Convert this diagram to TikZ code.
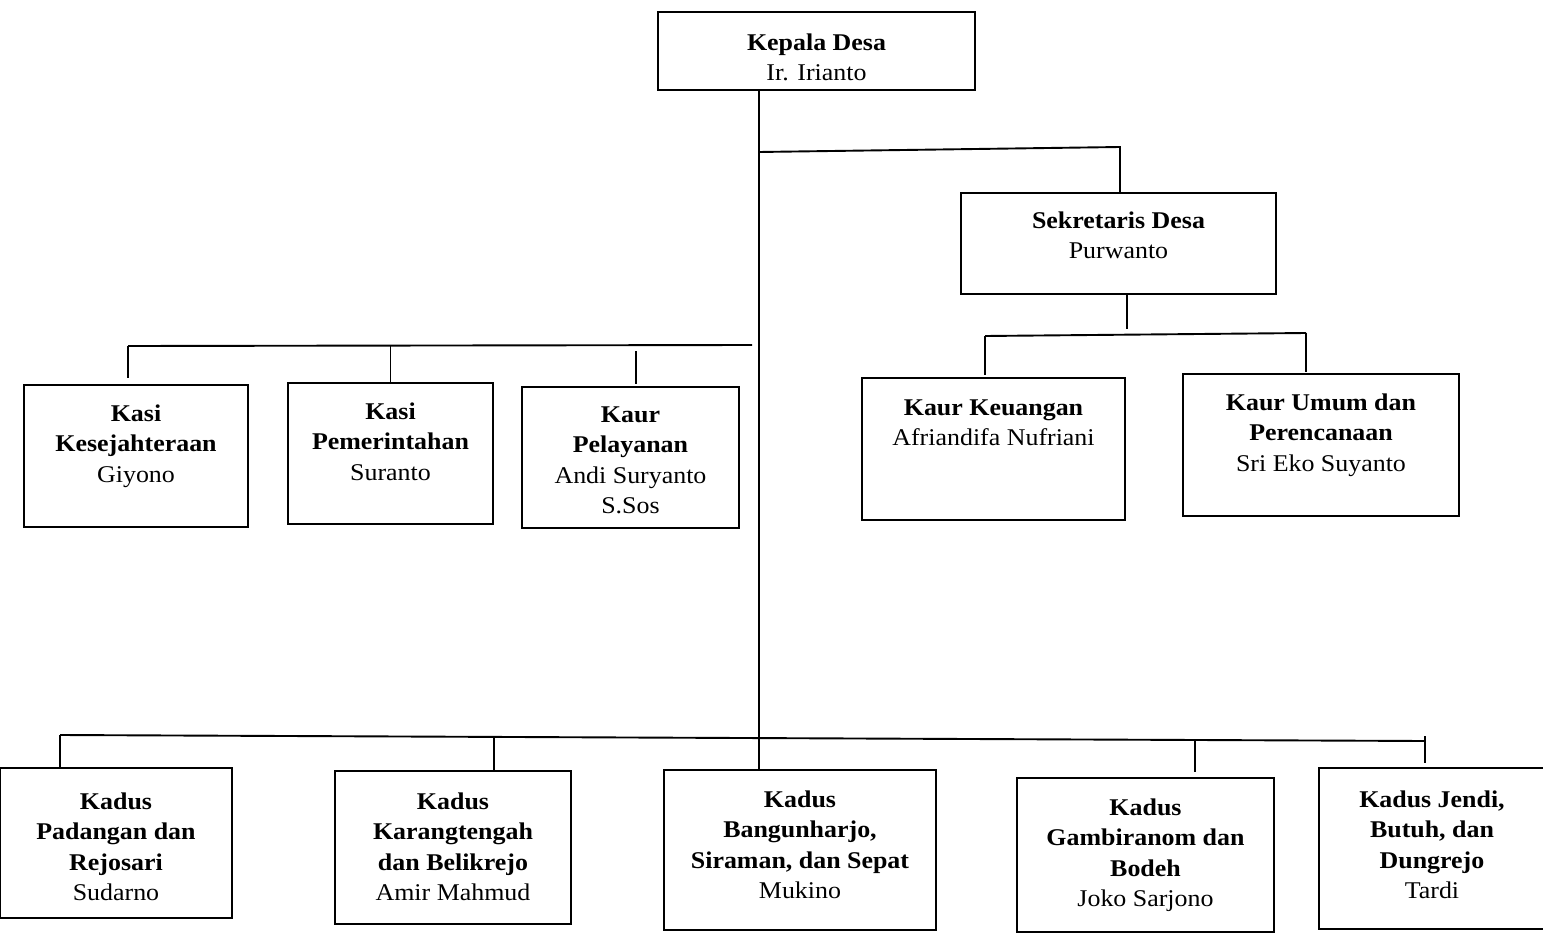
\documentclass[tikz,border=0pt]{standalone}
\usepackage{fontspec}
\setmainfont{Liberation Serif}[FakeStretch=1.08]
\usetikzlibrary{calc}
% text block of a unit box: width, height, top padding, text
\newcommand{\unitbody}[4]{\parbox[t][#2][t]{#1}{\centering\vspace*{#3}\strut#4}}
\tikzset{
  unit/.style={draw,line width=1.9pt,inner sep=0pt,outer sep=0pt,anchor=north west,
    font=\fontsize{24}{30.5}\selectfont},
  link/.style={line width=1.9pt}
}

\begin{document}
\begin{tikzpicture}[x=1pt,y=-1pt]
  \useasboundingbox (0,0) rectangle (1543,934);
  % head and secretary
  \node[unit] (kades) at (658,12) {\unitbody{317pt}{78pt}{17pt}{\textbf{Kepala Desa}\\Ir. Irianto}};
  \node[unit] (sekdes) at (961,193) {\unitbody{315pt}{101pt}{14pt}{\textbf{Sekretaris Desa}\\Purwanto}};
  % kasi and kaur
  \node[unit] (kesra) at (24,385) {\unitbody{224pt}{142pt}{15pt}{\textbf{Kasi}\\\textbf{Kesejahteraan}\\Giyono}};
  \node[unit] (pemerintahan) at (288,383) {\unitbody{205pt}{141pt}{15pt}{\textbf{Kasi}\\\textbf{Pemerintahan}\\Suranto}};
  \node[unit] (pelayanan) at (522,387) {\unitbody{217pt}{141pt}{14pt}{\textbf{Kaur}\\\textbf{Pelayanan}\\Andi Suryanto\\S.Sos}};
  \node[unit] (keuangan) at (862,378) {\unitbody{263pt}{142pt}{16pt}{\textbf{Kaur Keuangan}\\Afriandifa Nufriani}};
  \node[unit] (umum) at (1183,374) {\unitbody{276pt}{142pt}{15pt}{\textbf{Kaur Umum dan}\\\textbf{Perencanaan}\\Sri Eko Suyanto}};
  % kadus
  \node[unit] (padangan) at (0,768) {\unitbody{232pt}{150pt}{20pt}{\textbf{Kadus}\\\textbf{Padangan dan}\\\textbf{Rejosari}\\Sudarno}};
  \node[unit] (karangtengah) at (335,771) {\unitbody{236pt}{153pt}{17pt}{\textbf{Kadus}\\\textbf{Karangtengah}\\\textbf{dan Belikrejo}\\Amir Mahmud}};
  \node[unit] (bangunharjo) at (664,770) {\unitbody{272pt}{160pt}{16pt}{\textbf{Kadus}\\\textbf{Bangunharjo,}\\\textbf{Siraman, dan Sepat}\\Mukino}};
  \node[unit] (gambiranom) at (1017,778) {\unitbody{257pt}{154pt}{16pt}{\textbf{Kadus}\\\textbf{Gambiranom dan}\\\textbf{Bodeh}\\Joko Sarjono}};
  \node[unit] (jendi) at (1319,768) {\unitbody{226pt}{161pt}{18pt}{\textbf{Kadus Jendi,}\\\textbf{Butuh, dan}\\\textbf{Dungrejo}\\Tardi}};

  % junction points
  \coordinate (trunk) at (759,152);
  \coordinate (sekturn) at (1120,147);
  \coordinate (sekstub) at (1127,329);
  \coordinate (kaurL) at (985,336);
  \coordinate (kaurR) at (1306,333);
  \coordinate (kasiL) at (128,346);
  \coordinate (kasiR) at (752,345);
  \coordinate (pelx) at (636,351);
  \coordinate (kadusL) at (60,735);
  \coordinate (kadusR) at (1425,741);
  \coordinate (karangx) at (494,736);
  \coordinate (gambirx) at (1195,740);
  \coordinate (jendix) at (1425,736);

  % connectors
  \draw[link] (kades.south -| trunk) -- (bangunharjo.north -| trunk);
  \draw[link] (trunk) -- (sekturn) -- (sekdes.north -| sekturn);
  \draw[link] (sekdes.south -| sekstub) -- (sekstub);
  \draw[link] (kaurL) -- (kaurR);
  \draw[link,shorten >=3pt] (kaurL) -- (keuangan.north -| kaurL);
  \draw[link,shorten >=2pt] (kaurR) -- (umum.north -| kaurR);
  \draw[link] (kasiL) -- (kasiR);
  \draw[link,shorten >=7pt] (kasiL) -- (kesra.north -| kasiL);
  \draw[link] (pemerintahan.north |- kasiL) -- (pemerintahan.north);
  \draw[link,shorten >=3pt] (pelx) -- (pelayanan.north -| pelx);
  \draw[link] (kadusL) -- (kadusR);
  \draw[link] (kadusL) -- (padangan.north -| kadusL);
  \draw[link] (karangx) -- (karangtengah.north -| karangx);
  \draw[link,shorten >=6pt] (gambirx) -- (gambiranom.north -| gambirx);
  \draw[link,shorten >=5pt] (jendix) -- (jendi.north -| jendix);
\end{tikzpicture}
\end{document}
